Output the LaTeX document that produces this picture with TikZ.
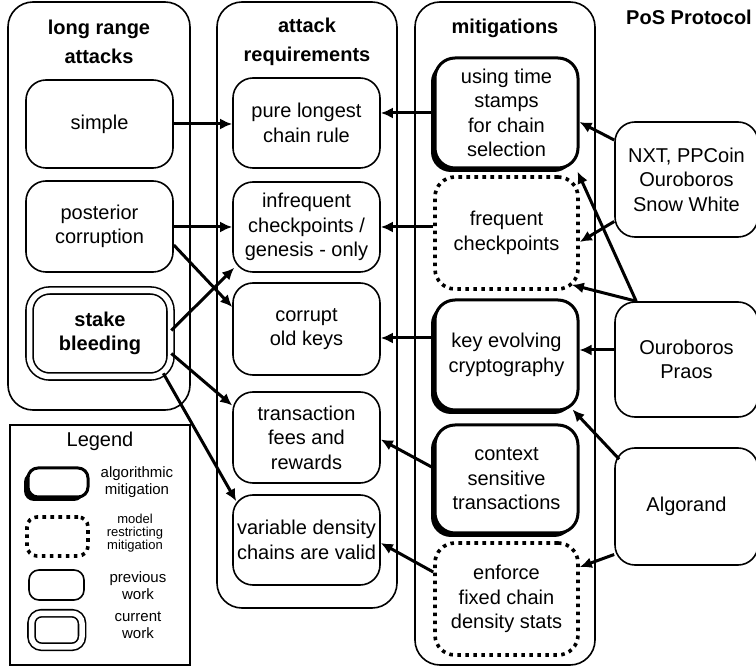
\documentclass[tikz,border=0pt]{standalone}
\usepackage{fontspec}
\setmainfont{Liberation Sans}
\usetikzlibrary{arrows.meta,shadows}

\begin{document}
\begin{tikzpicture}[x=0.5pt,y=-0.5pt,
        every node/.style={align=center, inner sep=1pt, font=\fontsize{10}{12.2}\selectfont},
        column/.style={draw, line width=0.8pt, rounded corners=12.5pt},
        box/.style={draw, line width=0.8pt, rounded corners=10pt},
        algo/.style={draw, fill=white, line width=1.5pt, rounded corners=10pt,
            drop shadow={shadow xshift=-2pt, shadow yshift=-2pt, fill=black, opacity=1}},
        model/.style={draw, line width=1.8pt, rounded corners=10pt, dash pattern=on 1.8pt off 2.2pt},
        current/.style={box, double, double distance=2.75pt},
        title/.style={font=\fontsize{10}{14.5}\selectfont\bfseries},
        small/.style={font=\fontsize{7.5}{8.5}\selectfont},
        arr/.style={-{Latex[length=6pt,width=5.5pt]}, line width=1.5pt}]
    \useasboundingbox (0,0) rectangle (756,668);

    \node[column, minimum width=91pt, minimum height=204pt] (col1) at (99,206) {};
    \node[column, minimum width=90pt, minimum height=303pt] (col2) at (307,305) {};
    \node[column, minimum width=90pt, minimum height=331.5pt] (col3) at (505,333.5) {};
    \node[title] (t1) at (99,42) {long range\\attacks};
    \node[title] (t2) at (307,42) {attack\\requirements};
    \node[title] (t3) at (505,28) {mitigations};
    \node[title] (t4) at (689,17) {PoS Protocol};

    % long range attacks
    \node[box, minimum width=73.5pt, minimum height=44pt] (simple) at (99.5,124) {simple};
    \node[box, minimum width=73.5pt, minimum height=45.5pt] (post) at (99.5,226.5) {posterior\\corruption};
    \node[current, minimum width=70.5pt, minimum height=43pt] (stake) at (100,333.5) {\bfseries stake\\\bfseries bleeding};

    % attack requirements
    \node[box, minimum width=73.5pt, minimum height=45pt] (pure) at (306.5,123) {pure longest\\chain rule};
    \node[box, minimum width=73.5pt, minimum height=45pt] (infreq) at (306.5,227) {infrequent\\checkpoints /\\genesis - only};
    \node[box, minimum width=73.5pt, minimum height=46pt] (corrupt) at (306.5,329) {corrupt\\old keys};
    \node[box, minimum width=73.5pt, minimum height=45.5pt] (trans) at (306.5,437.5) {transaction\\fees and\\rewards};
    \node[box, minimum width=73.5pt, minimum height=45pt] (var) at (306.5,540) {variable density\\chains are valid};

    % mitigations
    \node[algo, minimum width=71.5pt, minimum height=55pt] (stamps) at (506.5,113) {using time\\stamps\\for chain\\selection};
    \node[model, minimum width=71.5pt, minimum height=56pt] (freq) at (506.5,233) {frequent\\checkpoints};
    \node[algo, minimum width=71.5pt, minimum height=55pt] (keyev) at (506.5,355) {key evolving\\cryptography};
    \node[algo, minimum width=71.5pt, minimum height=54pt] (context) at (506.5,479) {context\\sensitive\\transactions};
    \node[model, minimum width=71.5pt, minimum height=56pt] (enforce) at (506.5,599) {enforce\\fixed chain\\density stats};

    % protocols
    \node[box, minimum width=71.5pt, minimum height=57.5pt] (nxt) at (686.5,179.5) {NXT, PPCoin\\Ouroboros\\Snow White};
    \node[box, minimum width=71.5pt, minimum height=57.5pt] (praos) at (686.5,359.5) {Ouroboros\\Praos};
    \node[box, minimum width=71.5pt, minimum height=58.5pt] (algor) at (686.5,506.5) {Algorand};

    % legend
    \node[draw, line width=0.8pt, minimum width=90pt, minimum height=120pt] (legend) at (100,545) {};
    \node (lgd) at (100,441) {Legend};
    \node[algo, rounded corners=5pt, minimum width=30pt, minimum height=14.5pt] (lalgo) at (58,482.5) {};
    \node[model, rounded corners=5pt, minimum width=30.5pt, minimum height=19.5pt] (lmodel) at (57.5,536.5) {};
    \node[box, rounded corners=5pt, minimum width=27.5pt, minimum height=15pt] (lprev) at (56.5,585) {};
    \node[current, rounded corners=5pt, minimum width=25.25pt, minimum height=16.75pt] (lcur) at (56.75,630) {};
    \node[small] (talgo) at (137,482) {algorithmic\\mitigation};
    \node[font=\fontsize{6.5}{6.6}\selectfont] (tmodel) at (135,533) {model\\restricting\\mitigation};
    \node[small] (tprev) at (138,585.5) {previous\\work};
    \node[small] (tcur) at (138,625) {current\\work};

    \draw[arr] (simple.east) -- (pure.west |- simple.east);
    \draw[arr] (post.east |- infreq.west) -- (infreq.west);
    \draw[arr] ([yshift=-9.25pt]post.east) -- ([yshift=11pt]corrupt.west);
    \draw[arr] ([yshift=1.5pt]stake.east) -- ([xshift=1pt,yshift=2.5pt]infreq.south west);
    \draw[arr] ([yshift=-10pt]stake.east) -- ([yshift=16pt]trans.west);
    \draw[arr] ([xshift=-4pt,yshift=2pt]stake.south east) -- ([xshift=2pt,yshift=-3.5pt]var.north west);

    \draw[arr] (stamps.west) -- (pure.east |- stamps.west);
    \draw[arr] (freq.west |- infreq.east) -- (infreq.east);
    \draw[arr] (keyev.west |- corrupt.east) ++(0,9) -- ([yshift=-4.5pt]corrupt.east);
    \draw[arr] ([yshift=5.5pt]context.west) -- ([yshift=-1pt]trans.east);
    \draw[arr] ([yshift=13.5pt]enforce.west) -- ([yshift=-1.5pt]var.east);

    \draw[arr] ([yshift=19.75pt]nxt.west) -- ([yshift=-4.5pt]stamps.east);
    \draw[arr] ([yshift=-21pt]nxt.west) -- ([yshift=-4.5pt]freq.east);
    \draw[arr] ([xshift=11pt]praos.north west) -- ([xshift=-1pt,yshift=-1pt]stamps.south east);
    \draw[arr] ([xshift=11pt]praos.north west) -- ([xshift=-4pt,yshift=3pt]freq.south east);
    \draw[arr] (praos.west |- keyev.east) ++(0,-5) -- ([yshift=2.5pt]keyev.east);
    \draw[arr] ([xshift=2.5pt,yshift=-6pt]algor.north west) -- ([xshift=-3.5pt,yshift=1pt]keyev.south east);
    \draw[arr] ([yshift=-24pt]algor.west) -- ([yshift=16pt]enforce.east);
\end{tikzpicture}
\end{document}
